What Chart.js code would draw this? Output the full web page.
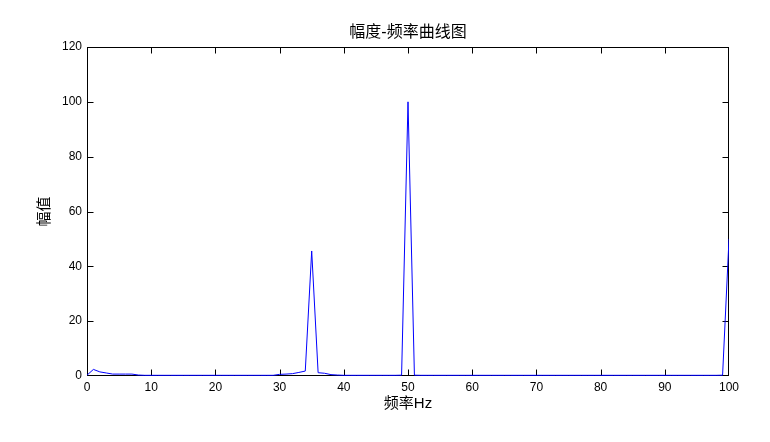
<!DOCTYPE html>
<html>
<head>
<meta charset="utf-8">
<script src="https://cdn.jsdelivr.net/npm/chart.js@4"></script>
<style>
  html, body { margin: 0; padding: 0; background: #fff; }
  #wrap { width: 770px; height: 442px; }
</style>
</head>
<body>
<div id="wrap"><canvas id="myChart" width="770" height="442"></canvas></div>
<script>
var ctx = document.getElementById('myChart');

const titleText = '幅度-频率曲线图';
const xTitle = '频率Hz';
const yTitle = '幅值';

// frequency bins, 0..100 Hz
const freqs = [];
for (let i = 0; i <= 100; ++i) {
  freqs.push(i);
}

// amplitude, one per bin
const amps = [
  0.3, 2.4, 1.5, 1.1, 0.7, 0.7, 0.7, 0.7, 0.35, 0.25,           // 0-9
  0.25, 0.25, 0.25, 0.25, 0.25, 0.25, 0.25, 0.25, 0.25, 0.25,   // 10-19
  0.25, 0.25, 0.25, 0.25, 0.25, 0.25, 0.25, 0.25, 0.25, 0.25,   // 20-29
  0.6, 0.7, 0.85, 1.3, 1.8, 45.6, 1.2, 1.0, 0.5, 0.35,          // 30-39
  0.25, 0.25, 0.25, 0.25, 0.25, 0.25, 0.25, 0.25, 0.25, 0.3,    // 40-49
  100, 0.3, 0.25, 0.25, 0.25, 0.25, 0.25, 0.25, 0.25, 0.25,     // 50-59
  0.25, 0.25, 0.25, 0.25, 0.25, 0.25, 0.25, 0.25, 0.25, 0.25,   // 60-69
  0.25, 0.25, 0.25, 0.25, 0.25, 0.25, 0.25, 0.25, 0.25, 0.25,   // 70-79
  0.25, 0.25, 0.25, 0.25, 0.25, 0.25, 0.25, 0.25, 0.25, 0.25,   // 80-89
  0.25, 0.25, 0.25, 0.25, 0.25, 0.25, 0.25, 0.25, 0.25, 0.3,    // 90-99
  50                                                            // 100
];

const xTicks = [0, 10, 20, 30, 40, 50, 60, 70, 80, 90, 100];
const yTicks = [0, 20, 40, 60, 80, 100, 120];

const points = freqs.map((f, i) => ({ x: f, y: amps[i] }));

const FONT = '"Liberation Sans", Arial, "Noto Sans CJK SC", sans-serif';

// matlab style box with inward ticks on all four sides
const boxTicks = {
  id: 'boxTicks',
  beforeDatasetsDraw(chart) {
    const c = chart.ctx;
    const a = chart.chartArea;
    const sx = chart.scales.x, sy = chart.scales.y;
    const L = Math.round(a.left) + 0.5, R = Math.round(a.right) - 0.5;
    const T = Math.round(a.top) + 0.5, B = Math.round(a.bottom) - 0.5;
    const len = 6;
    c.save();
    c.strokeStyle = '#000';
    c.lineWidth = 1;
    c.beginPath();
    xTicks.slice(1, -1).forEach(v => {
      const px = Math.round(sx.getPixelForValue(v)) + 0.5;
      c.moveTo(px, B); c.lineTo(px, B - len);
      c.moveTo(px, T); c.lineTo(px, T + len);
    });
    yTicks.slice(1, -1).forEach(v => {
      const py = Math.round(sy.getPixelForValue(v)) + 0.5;
      c.moveTo(L, py); c.lineTo(L + len, py);
      c.moveTo(R, py); c.lineTo(R - len, py);
    });
    c.stroke();
    c.strokeRect(L, T, R - L, B - T);
    c.restore();
  }
};

var myChart = new Chart(ctx, {
  type: 'line',
  data: {
    datasets: [
      {
        label: '幅值',
        data: points,
        borderColor: '#0000ff',
        backgroundColor: '#0000ff',
        borderWidth: 1,
        fill: false,
        tension: 0,
        pointRadius: 0
      }
    ]
  },
  plugins: [boxTicks],
  options: {
    responsive: false,
    devicePixelRatio: 1,
    animation: false,
    layout: {
      padding: { left: 0, right: 41, top: 0, bottom: 0 }
    },
    plugins: {
      legend: { display: false },
      tooltip: { enabled: false },
      title: { display: false }
    },
    scales: {
      x: {
        type: 'linear',
        min: 0,
        max: 100,
        afterBuildTicks: (s) => { s.ticks = xTicks.map(v => ({ value: v })); },
        afterFit: (s) => { s.height = 66; },
        grid: { display: false, drawTicks: false },
        border: { display: false },
        ticks: {
          color: '#000',
          padding: 4,
          maxRotation: 0,
          font: { family: FONT, size: 12 }
        },
        title: {
          display: true,
          text: xTitle,
          color: '#000',
          font: { family: FONT, size: 15, lineHeight: 1.2 },
          padding: { top: 29, bottom: 29 }
        }
      },
      // top axis only carries the chart title, centred over the plot box
      xTop: {
        type: 'linear',
        position: 'top',
        min: 0,
        max: 100,
        afterFit: (s) => { s.height = 47; },
        grid: { display: false, drawTicks: false },
        border: { display: false },
        ticks: { display: false },
        title: {
          display: true,
          text: titleText,
          color: '#000',
          font: { family: FONT, size: 16, lineHeight: 1.2 },
          padding: { top: 23, bottom: 23 }
        }
      },
      y: {
        min: 0,
        max: 120,
        afterBuildTicks: (s) => { s.ticks = yTicks.map(v => ({ value: v })); },
        afterFit: (s) => { s.width = 87; },
        grid: { display: false, drawTicks: false },
        border: { display: false },
        ticks: {
          color: '#000',
          padding: 5,
          font: { family: FONT, size: 12 }
        },
        title: {
          display: true,
          text: yTitle,
          color: '#000',
          font: { family: FONT, size: 15, lineHeight: 1.2 },
          padding: { top: 36, bottom: 36 }
        }
      }
    }
  }
});
</script>
</body>
</html>
